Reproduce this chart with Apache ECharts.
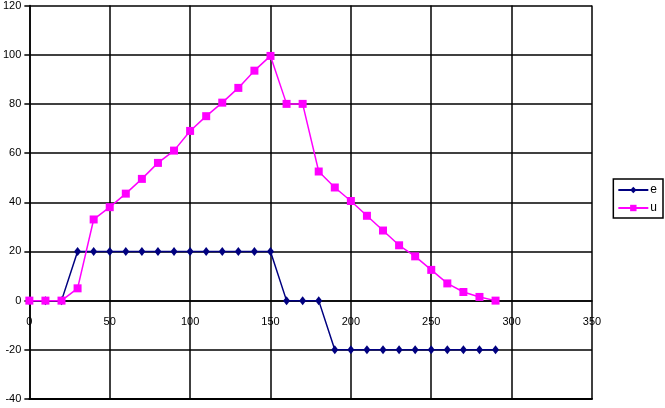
<!DOCTYPE html>
<html><head><meta charset="utf-8">
<script src="https://cdn.jsdelivr.net/npm/echarts@6/dist/echarts.min.js"></script>
<style>html,body{margin:0;padding:0;background:#fff;overflow:hidden}#c{width:665px;height:408px}</style>
</head><body><div id="c"></div>
<script>
const xValues = [0,10,20,30,40,50,60,70,80,90,100,110,120,130,140,150,160,170,180,190,200,210,220,230,240,250,260,270,280,290];
const eValues = [0,0,0,20,20,20,20,20,20,20,20,20,20,20,20,20,0,0,0,-20,-20,-20,-20,-20,-20,-20,-20,-20,-20,-20];
const uValues = [0,0,0,5,33,38,43.5,49.5,56,61,69,75,80.5,86.5,93.5,99.5,80,80,52.5,46,40.5,34.5,28.5,22.5,18,12.5,7,3.5,1.5,0];
const xTicks = {min:0, max:350, interval:50};
const yTicks = {min:-40, max:120, interval:20};

const gridTop = 5, gridBottom = 9, chartH = 408;
const plotH = chartH - gridTop - gridBottom;
const zeroFromTop = plotH * (yTicks.max - 0) / (yTicks.max - yTicks.min);

const chart = echarts.init(document.getElementById('c'));
const font = 'Liberation Sans, Arial, sans-serif';
const black = {color:'#000', width:1.5};
chart.setOption({
  animation:false,
  grid:{left:28, right:73, top:gridTop, bottom:gridBottom},
  legend:{
    orient:'vertical', right:2, top:179,
    data:['e','u'],
    itemWidth:30, itemHeight:8, itemGap:6,
    borderColor:'#000', borderWidth:1.5, padding:[5,6,4,4],
    textStyle:{fontFamily:font, fontSize:12, color:'#000', padding:[0,0,0,-3]}
  },
  xAxis:[{
    type:'value', min:xTicks.min, max:xTicks.max, interval:xTicks.interval,
    position:'top', offset:-zeroFromTop,
    axisLine:{onZero:false, lineStyle:black},
    axisTick:{show:false},
    axisLabel:{inside:true, color:'#000', fontFamily:font, fontSize:11, margin:15},
    splitLine:{show:true, lineStyle:black}
  },{
    type:'value', min:xTicks.min, max:xTicks.max, interval:xTicks.interval,
    position:'bottom',
    axisLine:{show:true, onZero:false, lineStyle:{color:'#000', width:2}},
    axisTick:{show:false}, axisLabel:{show:false}, splitLine:{show:false}
  }],
  yAxis:{
    type:'value', min:yTicks.min, max:yTicks.max, interval:yTicks.interval,
    axisLine:{show:true, onZero:false, lineStyle:black},
    axisTick:{show:true, length:5, lineStyle:black},
    axisLabel:{color:'#000', fontFamily:font, fontSize:11, margin:8},
    splitLine:{show:true, lineStyle:black}
  },
  series:[
    {name:'e', type:'line', data:xValues.map((x,i)=>[x,eValues[i]]),
     symbol:'diamond', symbolSize:[7,9],
     lineStyle:{color:'#000080', width:1.5},
     itemStyle:{color:'#000080'}},
    {name:'u', type:'line', data:xValues.map((x,i)=>[x,uValues[i]]),
     symbol:'rect', symbolSize:8,
     lineStyle:{color:'#FF00FF', width:1.5},
     itemStyle:{color:'#FF00FF'}}
  ]
});
</script></body></html>
